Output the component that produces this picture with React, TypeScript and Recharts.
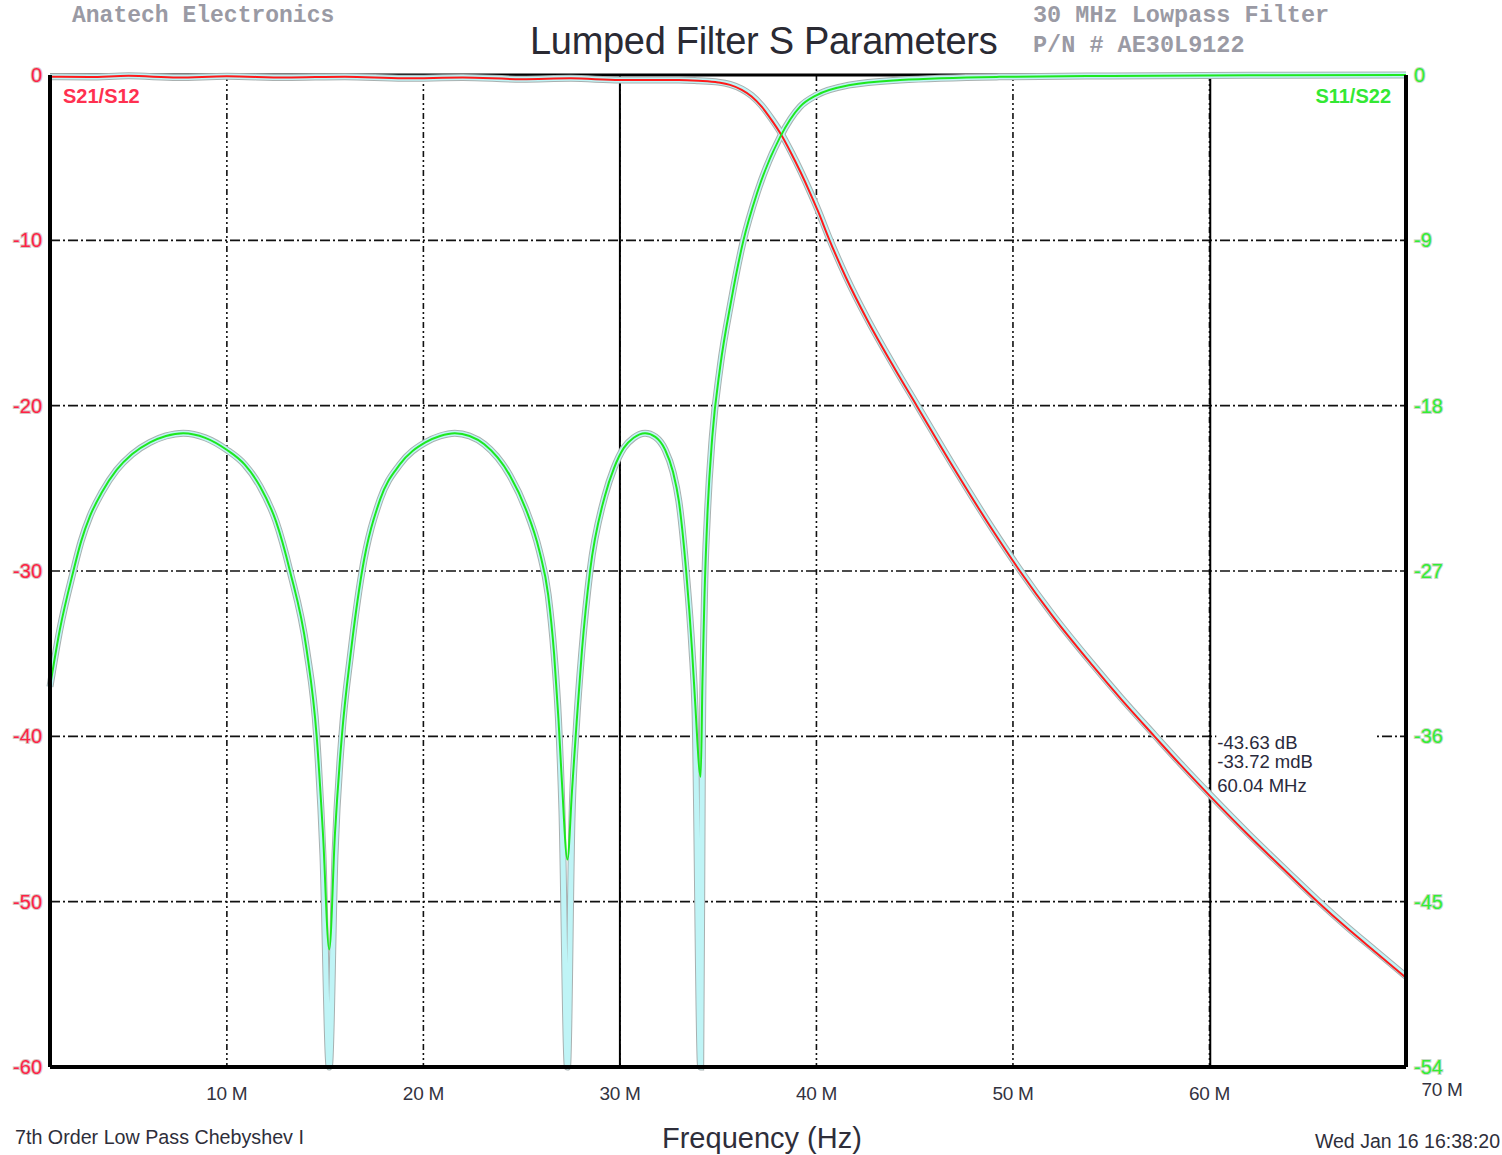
import React from "react";
import {
  ComposedChart,
  Line,
  XAxis,
  YAxis,
  CartesianGrid,
  ReferenceLine,
} from "recharts";

// axis ticks
const freqTicks = [10, 20, 30, 40, 50, 60, 70];
const leftTicks = [0, -10, -20, -30, -40, -50, -60];
const rightTicks = [0, -9, -18, -27, -36, -45, -54];

// S21 / S12 (left axis, dB)
const s21Freq = [
  1, 3, 5, 7.5, 10, 13, 16, 19, 22, 25, 27.5, 30, 31.5, 33, 34, 35, 35.6, 36.2,
  36.7, 37.2, 37.7, 38.2, 38.7, 39.2, 39.7, 40.1, 40.6, 41.5, 42.6, 44, 45.1,
  47, 49, 50.35, 52, 54, 55.5, 57.2, 58.5, 60.04, 62, 64, 65.5, 67, 68.5, 70,
];
const s21Db = [
  -0.1, -0.12, -0.05, -0.15, -0.08, -0.15, -0.1, -0.2, -0.15, -0.25, -0.2,
  -0.3, -0.3, -0.3, -0.35, -0.45, -0.6, -0.9, -1.3, -1.9, -2.7, -3.6, -4.7,
  -5.9, -7.2, -8.3, -9.8, -12.25, -14.85, -17.8, -20.0, -23.8, -27.6, -30.0,
  -32.7, -35.65, -37.75, -40.0, -41.7, -43.63, -46.0, -48.3, -50.0, -51.6,
  -53.1, -54.6,
];
const s12Db = [
  -0.1, -0.12, -0.05, -0.15, -0.08, -0.15, -0.1, -0.2, -0.15, -0.25, -0.2,
  -0.3, -0.3, -0.3, -0.35, -0.43, -0.57, -0.85, -1.24, -1.83, -2.62, -3.52,
  -4.62, -5.82, -7.12, -8.22, -9.72, -12.17, -14.77, -17.72, -19.92, -23.72,
  -27.52, -29.92, -32.62, -35.57, -37.67, -39.92, -41.62, -43.55, -45.92,
  -48.22, -49.92, -51.52, -53.02, -54.52,
];

// S11 / S22 (right axis, dB)
const s11Freq = [
  1.0, 1.5, 2.19, 2.58, 3.04, 3.65, 4.39, 5.17, 6.09, 6.9, 7.78, 8.9, 9.99,
  10.9, 11.69, 12.5, 13.21, 14.06, 14.57, 14.89, 15.21, 15.5, 15.85, 16.3,
  16.88, 17.8, 18.8, 20.1, 20.85, 21.6, 22.35, 23.1, 24.4, 25.2, 25.9, 26.35,
  26.65, 26.87, 27.05, 27.33, 27.56, 27.8, 28.07, 28.48, 29.24, 29.7, 30.2,
  30.7, 31.28, 31.8, 32.3, 32.7, 33.0, 33.37, 33.67, 33.82, 34.11, 34.2, 34.3,
  34.45, 34.7, 35.1, 35.66, 36.27, 36.98, 38.15, 39.17, 40.02, 41.72, 44.26,
  49.3, 55, 62, 70,
];
const s11Db = [
  -33.3, -30.2, -27.0, -25.4, -24.0, -22.7, -21.5, -20.65, -20.0, -19.65, -19.5,
  -19.75, -20.4, -21.2, -22.4, -24.3, -27.0, -31.3, -36.0, -41.3, -47.6, -41.3,
  -36.0, -31.5, -27.0, -23.1, -21.2, -20.0, -19.65, -19.5, -19.65, -20.1,
  -21.8, -23.6, -25.9, -28.3, -31.5, -35.0, -38.5, -42.7, -39.0, -35.2, -31.3,
  -27.0, -22.9, -21.4, -20.3, -19.75, -19.5, -19.7, -20.4, -21.6, -23.2, -27.0,
  -31.3, -34.0, -38.2, -33.0, -28.5, -24.0, -19.7, -15.9, -12.3, -9.07, -6.42,
  -3.38, -1.72, -1.09, -0.54, -0.27, -0.1, -0.05, -0.02, 0,
];
const s22Db = [
  -33.3, -30.2, -27.0, -25.4, -24.0, -22.7, -21.5, -20.65, -20.0, -19.65, -19.5,
  -19.75, -20.4, -21.2, -22.4, -24.3, -27.0, -31.3, -36.0, -42.5, -54.0, -42.5,
  -36.0, -31.5, -27.0, -23.1, -21.2, -20.0, -19.65, -19.5, -19.65, -20.1,
  -21.8, -23.6, -25.9, -28.3, -31.5, -35.0, -40.0, -54.0, -40.5, -35.2, -31.3,
  -27.0, -22.9, -21.4, -20.3, -19.75, -19.5, -19.7, -20.4, -21.6, -23.2, -27.0,
  -31.3, -34.5, -54.0, -36.0, -28.5, -24.0, -19.7, -15.9, -12.3, -9.07, -6.42,
  -3.38, -1.72, -1.09, -0.54, -0.27, -0.1, -0.05, -0.02, 0,
];

const markerFreq = 60.04;
const markerLines = ["-43.63 dB", "-33.72 mdB", "60.04 MHz"];

const toPoints = (fs: number[], vs: number[]) =>
  fs.map((f, i) => ({ f, db: vs[i] }));

const s21Data = toPoints(s21Freq, s21Db);
const s12Data = toPoints(s21Freq, s12Db);
const s11Data = toPoints(s11Freq, s11Db);
const s22Data = toPoints(s11Freq, s22Db);

const SANS = "'Liberation Sans', Arial, sans-serif";
const MONO = "'Liberation Mono', 'Courier New', monospace";

const LeftTick = ({ x, y, payload }: any) => (
  <text
    x={x}
    y={y}
    dy={7}
    textAnchor="end"
    fontFamily={SANS}
    fontSize={20}
    fill="#ff2244"
    stroke="#d8c4c4"
    strokeWidth={2}
    paintOrder="stroke"
  >
    {payload.value}
  </text>
);

const RightTick = ({ x, y, payload }: any) => (
  <text
    x={x}
    y={y}
    dy={7}
    textAnchor="start"
    fontFamily={SANS}
    fontSize={20}
    fill="#33ee33"
    stroke="#c8d8c8"
    strokeWidth={2}
    paintOrder="stroke"
  >
    {payload.value}
  </text>
);

const FreqTick = ({ x, y, payload }: any) => {
  const last = payload.value === 70;
  return (
    <text
      x={last ? x + 36 : x}
      y={y}
      dy={last ? 21 : 25}
      textAnchor="middle"
      fontFamily={SANS}
      fontSize={19}
      letterSpacing={-0.3}
      fill="#33333f"
    >
      {payload.value} M
    </text>
  );
};

const MarkerLabel = ({ viewBox }: any) => {
  const x = viewBox.x + 7;
  const y = viewBox.y;
  const rows = [674, 693, 717];
  return (
    <g>
      <rect x={x - 1} y={y + 659} width={160} height={66} fill="#fff" />
      {markerLines.map((t, i) => (
        <text
          key={t}
          x={x}
          y={y + rows[i]}
          fontFamily={SANS}
          fontSize={18.5}
          fill="#2a2a3c"
        >
          {t}
        </text>
      ))}
    </g>
  );
};

const txt = (style: React.CSSProperties): React.CSSProperties => ({
  position: "absolute",
  whiteSpace: "nowrap",
  lineHeight: 1,
  ...style,
});

export default function App() {
  return (
    <div
      style={{
        position: "absolute",
        left: 0,
        top: 0,
        width: 1502,
        height: 1155,
        background: "#fff",
        overflow: "hidden",
      }}
    >
      <ComposedChart
        width={1502}
        height={1155}
        margin={{ top: 75, right: 36, bottom: 48, left: 0 }}
      >
        <CartesianGrid
          yAxisId="left"
          vertical={false}
          stroke="#111"
          strokeWidth={1.6}
          strokeDasharray="10 3 2 3"
        />
        <CartesianGrid
          yAxisId="left"
          horizontal={false}
          stroke="#111"
          strokeWidth={1.6}
          strokeDasharray="6 3 2 3 2 3"
        />
        <XAxis
          type="number"
          dataKey="f"
          domain={[1, 70]}
          ticks={freqTicks}
          height={40}
          tickLine={false}
          axisLine={{ stroke: "#000", strokeWidth: 4 }}
          tick={<FreqTick />}
          interval={0}
        />
        <YAxis
          yAxisId="left"
          domain={[-60, 0]}
          ticks={leftTicks}
          width={50}
          tickLine={false}
          axisLine={{ stroke: "#000", strokeWidth: 4 }}
          tick={<LeftTick />}
          interval={0}
        />
        <YAxis
          yAxisId="right"
          orientation="right"
          domain={[-54, 0]}
          ticks={rightTicks}
          width={60}
          tickLine={false}
          axisLine={{ stroke: "#000", strokeWidth: 4 }}
          tick={<RightTick />}
          interval={0}
        />
        <ReferenceLine yAxisId="left" y={0} stroke="#000" strokeWidth={3} />
        <ReferenceLine yAxisId="left" x={30} stroke="#000" strokeWidth={2} />
        <ReferenceLine
          yAxisId="left"
          x={markerFreq}
          stroke="#000"
          strokeWidth={2}
          label={<MarkerLabel />}
        />

        {/* shadow traces S22 / S12 */}
        <Line
          yAxisId="right"
          data={s22Data}
          dataKey="db"
          type="monotone"
          stroke="#a8b0b0"
          strokeWidth={7}
          dot={false}
          activeDot={false}
          isAnimationActive={false}
        />
        <Line
          yAxisId="left"
          data={s12Data}
          dataKey="db"
          type="monotone"
          stroke="#a8b0b0"
          strokeWidth={7}
          dot={false}
          activeDot={false}
          isAnimationActive={false}
        />
        <Line
          yAxisId="right"
          data={s22Data}
          dataKey="db"
          type="monotone"
          stroke="#bff4f6"
          strokeWidth={5}
          dot={false}
          activeDot={false}
          isAnimationActive={false}
        />
        <Line
          yAxisId="left"
          data={s12Data}
          dataKey="db"
          type="monotone"
          stroke="#bff4f6"
          strokeWidth={5}
          dot={false}
          activeDot={false}
          isAnimationActive={false}
        />

        {/* main traces */}
        <Line
          yAxisId="left"
          data={s21Data}
          dataKey="db"
          type="monotone"
          stroke="#ff1a1a"
          strokeWidth={2}
          dot={false}
          activeDot={false}
          isAnimationActive={false}
        />
        <Line
          yAxisId="right"
          data={s11Data}
          dataKey="db"
          type="monotone"
          stroke="#1ee81e"
          strokeWidth={2}
          dot={false}
          activeDot={false}
          isAnimationActive={false}
        />
      </ComposedChart>

      <div
        style={txt({
          left: 72,
          top: 5,
          fontFamily: MONO,
          fontWeight: "bold",
          fontSize: 23,
          color: "#9a9aa4",
        })}
      >
        Anatech Electronics
      </div>
      <div
        style={txt({
          left: 530,
          top: 22,
          fontFamily: SANS,
          fontSize: 38,
          letterSpacing: -0.3,
          color: "#2a2a33",
        })}
      >
        Lumped Filter S Parameters
      </div>
      <div
        style={txt({
          left: 1033,
          top: 4,
          fontFamily: MONO,
          fontWeight: "bold",
          fontSize: 23.5,
          color: "#9a9aa4",
        })}
      >
        30 MHz Lowpass Filter
      </div>
      <div
        style={txt({
          left: 1033,
          top: 34,
          fontFamily: MONO,
          fontWeight: "bold",
          fontSize: 23.5,
          color: "#9a9aa4",
        })}
      >
        P/N # AE30L9122
      </div>
      <div
        style={txt({
          left: 63,
          top: 86,
          fontFamily: SANS,
          fontWeight: "bold",
          fontSize: 20,
          color: "#ff3050",
        })}
      >
        S21/S12
      </div>
      <div
        style={txt({
          right: 1502 - 1391,
          top: 86,
          fontFamily: SANS,
          fontWeight: "bold",
          fontSize: 20,
          color: "#33e833",
        })}
      >
        S11/S22
      </div>
      <div
        style={txt({
          left: 15,
          top: 1128,
          fontFamily: SANS,
          fontSize: 19.7,
          color: "#2e2e3a",
        })}
      >
        7th Order Low Pass Chebyshev I
      </div>
      <div
        style={txt({
          left: 662,
          top: 1124,
          fontFamily: SANS,
          fontSize: 29,
          color: "#2e2e3a",
        })}
      >
        Frequency (Hz)
      </div>
      <div
        style={txt({
          right: 2,
          top: 1132,
          fontFamily: SANS,
          fontSize: 19.5,
          color: "#2e2e3a",
        })}
      >
        Wed Jan 16 16:38:20
      </div>
    </div>
  );
}
